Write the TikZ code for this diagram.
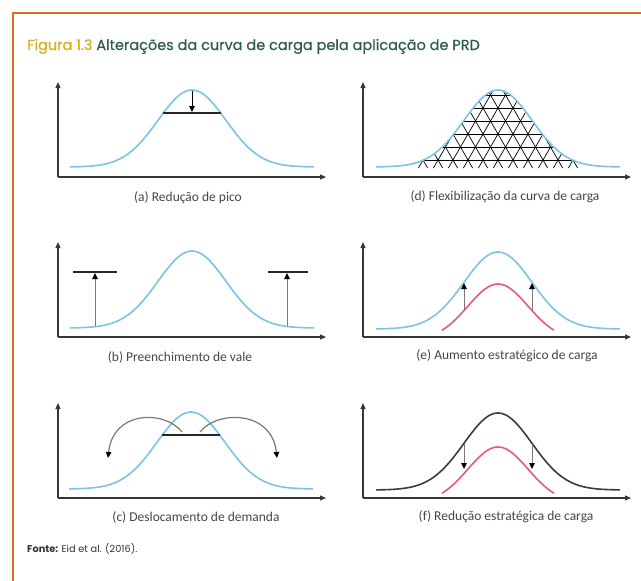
\documentclass[tikz,border=0pt]{standalone}
\usepackage{fontspec}
\setmainfont{Carlito}
\newfontfamily\titlefont[FakeBold=0.5]{Poppins}
\newfontfamily\sourcefont{Poppins}
\usetikzlibrary{arrows.meta}
\definecolor{frameor}{RGB}{212,110,35}
\definecolor{titleyel}{RGB}{215,175,30}
\definecolor{titlegreen}{RGB}{45,95,70}
\definecolor{curveblue}{RGB}{125,195,230}
\definecolor{curvered}{RGB}{235,90,110}
\definecolor{curvedark}{RGB}{60,60,60}
\definecolor{axisc}{RGB}{55,55,55}
\definecolor{arrowgray}{RGB}{120,120,120}
\definecolor{labelc}{RGB}{70,70,70}
\newcommand\axespair[2]{%
  \draw[axis] (#1,#2) -- (#1,#2-95);
  \draw[axis] (#1,#2) -- (#1+268,#2);}
\newcommand\bellat[3]{%
  \draw[#3] plot[domain=-122:122,samples=121,smooth] ({#1+\x},{#2-77*exp(-\x*\x/2312)});}
\newcommand\redbellat[2]{%
  \draw[redcurve] plot[domain=-56:56,samples=57,smooth] ({#1+\x},{#2-56*exp(-\x*\x/1800)});}
\begin{document}
\begin{tikzpicture}[x=1pt,y=-1pt,
  axis/.style={draw=axisc, line width=1.1pt, -{Triangle[length=6pt,width=5pt]}},
  bluecurve/.style={draw=curveblue, line width=1.6pt},
  redcurve/.style={draw=curvered, line width=1.6pt},
  darkcurve/.style={draw=curvedark, line width=1.6pt},
  levelbar/.style={draw=black!85, line width=1.8pt},
  shiftarrow/.style={draw=arrowgray, line width=1pt, -{Triangle[length=6pt,width=5.5pt,color=black]}},
  caption/.style={font=\fontsize{13.5}{15}\selectfont, text=labelc, inner sep=0pt},
  mesh/.style={draw=black, line width=0.7pt}]
\useasboundingbox (0,0) rectangle (641,581);
\fill[white] (0,0) rectangle (641,581);
\draw[frameor, line width=2.5pt] (13,583) -- (13,13) -- (643,13);

% title
\node[anchor=base west, inner sep=0pt, font=\titlefont\fontsize{14.5}{16}\selectfont] (title) at (27,50)
  {\textcolor{titleyel}{Figura 1.3} \textcolor{titlegreen}{Alterações da curva de carga pela aplicação de PRD}};

% ---------- (a) ----------
\axespair{58}{177}
\bellat{192}{167}{bluecurve}
\coordinate (aTop) at (192,91);
\coordinate (aBar) at (192,112);
\draw[levelbar] (163,113) -- (221,113);
\draw[draw=black, line width=0.9pt, -{Triangle[length=6pt,width=5.5pt]}] (aTop) -- (aBar);
\node[caption] (capa) at (188,198) {(a) Redução de pico};

% ---------- (d) ----------
\axespair{363}{177}
\begin{scope}
  \clip plot[domain=-80:80,samples=81,smooth] ({498+\x},{167-77*exp(-\x*\x/2312)}) -- (578,168) -- (418,168) -- cycle;
  \foreach \k in {0,...,6} { \draw[mesh] (400,160-13*\k) -- (600,160-13*\k); }
  \foreach \j in {-12,...,12} {
    \draw[mesh] (498+15*\j-7.5,173) -- (498+15*\j+50.2,73);
    \draw[mesh] (498+15*\j+7.5,173) -- (498+15*\j-50.2,73);
  }
\end{scope}
\bellat{498}{167}{bluecurve}
\node[caption] (capd) at (505,197) {(d) Flexibilização da curva de carga};

% ---------- (b) ----------
\axespair{58}{337}
\bellat{192}{328}{bluecurve}
\draw[levelbar] (73,272) -- (117,272);
\draw[levelbar] (268,272) -- (308,272);
\coordinate (bL0) at (95,326);
\coordinate (bL1) at (95,273);
\coordinate (bR0) at (287,326);
\coordinate (bR1) at (287,273);
\draw[shiftarrow] (bL0) -- (bL1);
\draw[shiftarrow] (bR0) -- (bR1);
\node[caption] (capb) at (180,357) {(b) Preenchimento de vale};

% ---------- (e) ----------
\axespair{363}{337}
\bellat{498}{329}{bluecurve}
\redbellat{498}{340}
\coordinate (eL0) at (464,310);
\coordinate (eL1) at (464,283);
\coordinate (eR0) at (532,310);
\coordinate (eR1) at (532,283);
\draw[shiftarrow] (eL0) -- (eL1);
\draw[shiftarrow] (eR0) -- (eR1);
\node[caption] (cape) at (507,356) {(e) Aumento estratégico de carga};

% ---------- (c) ----------
\axespair{58}{498}
\bellat{191}{489}{bluecurve}
\draw[levelbar] (162,435) -- (220,435);
\coordinate (cL0) at (182,432);
\coordinate (cL1) at (108,458);
\coordinate (cR0) at (200,432);
\coordinate (cR1) at (277,458);
\draw[shiftarrow, line width=1.2pt] (cL0) .. controls (165,410) and (113,410) .. (cL1);
\draw[shiftarrow, line width=1.2pt] (cR0) .. controls (217,410) and (272,410) .. (cR1);
\node[caption] (capc) at (196,517) {(c) Deslocamento de demanda};

% ---------- (f) ----------
\axespair{363}{498}
\bellat{498}{490}{darkcurve}
\redbellat{498}{503}
\coordinate (fL0) at (464,444);
\coordinate (fL1) at (464,469);
\coordinate (fR0) at (532,444);
\coordinate (fR1) at (532,469);
\draw[shiftarrow] (fL0) -- (fL1);
\draw[shiftarrow] (fR0) -- (fR1);
\node[caption] (capf) at (506,517) {(f) Redução estratégica de carga};

% source
\node[anchor=base west, inner sep=0pt, text=black!80, font=\sourcefont\fontsize{9.8}{11}\selectfont] (source) at (27,552)
  {\textbf{Fonte:} Eid et al. (2016).};
\end{tikzpicture}
\end{document}
